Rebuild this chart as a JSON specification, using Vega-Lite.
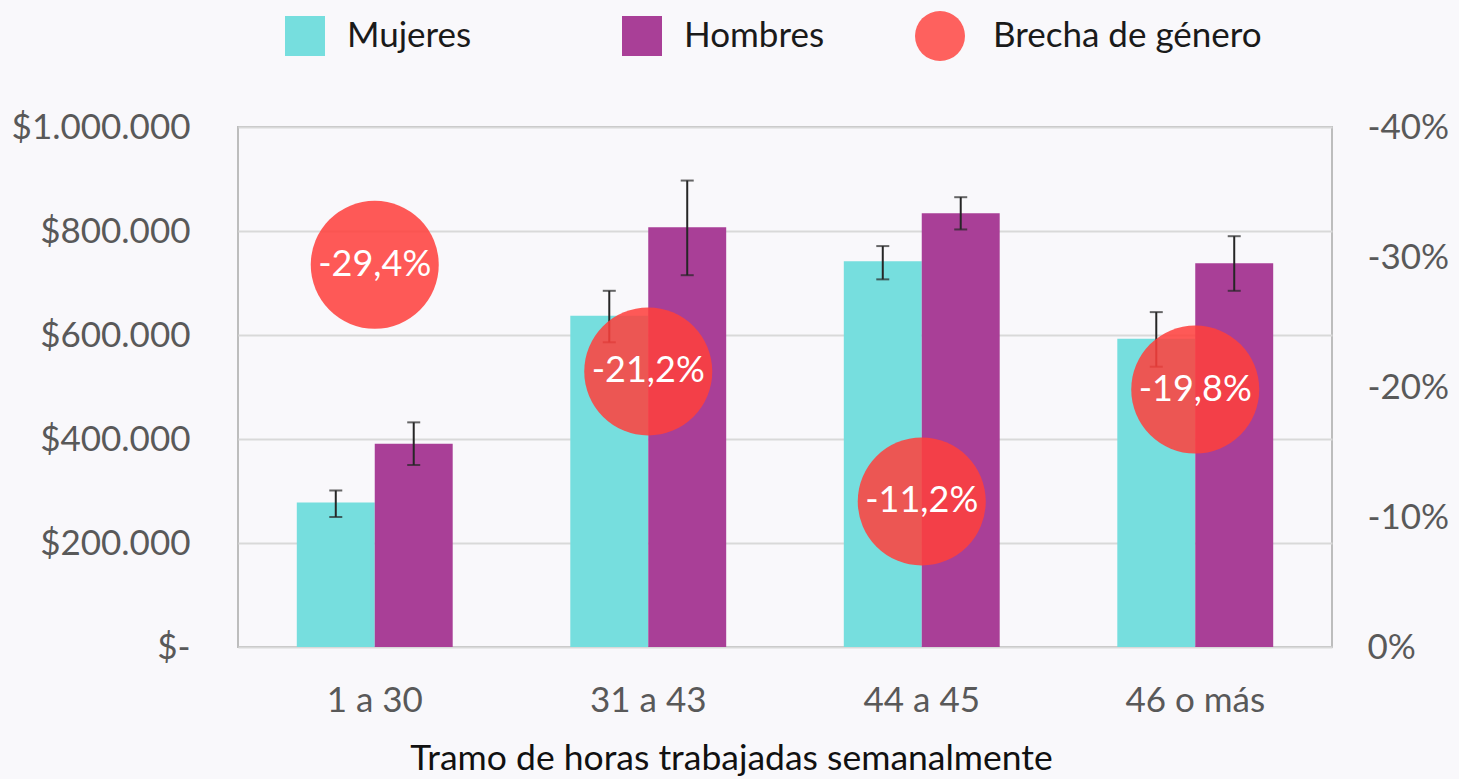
{
  "$schema": "https://vega.github.io/schema/vega-lite/v6.json",
  "width": 1094,
  "height": 520,
  "autosize": {"type": "none"},
  "padding": {"left": 238, "top": 127, "right": 127, "bottom": 132},
  "background": "#F9F8FB",
  "config": {
    "locale": {"number": {"decimal": ",", "thousands": ".", "grouping": [3], "currency": ["$", ""], "minus": "-", "percent": "%"}},
    "view": {"stroke": "#BDBDBD", "strokeWidth": 2},
    "font": "Lato",
    "axis": {"labelFont": "Lato", "titleFont": "Lato"},
    "legend": {"labelFont": "Lato"}
  },
  "datasets": {
    "bars": [
      {"tramo": "1 a 30", "sexo": "Mujeres", "valor": 278000, "lo": 250000, "hi": 301000},
      {"tramo": "1 a 30", "sexo": "Hombres", "valor": 391000, "lo": 350000, "hi": 432000},
      {"tramo": "31 a 43", "sexo": "Mujeres", "valor": 637000, "lo": 586000, "hi": 685000},
      {"tramo": "31 a 43", "sexo": "Hombres", "valor": 807000, "lo": 715000, "hi": 897000},
      {"tramo": "44 a 45", "sexo": "Mujeres", "valor": 742000, "lo": 707000, "hi": 771000},
      {"tramo": "44 a 45", "sexo": "Hombres", "valor": 834000, "lo": 803000, "hi": 865000},
      {"tramo": "46 o más", "sexo": "Mujeres", "valor": 593000, "lo": 539000, "hi": 644000},
      {"tramo": "46 o más", "sexo": "Hombres", "valor": 738000, "lo": 685000, "hi": 790000}
    ],
    "gaps": [
      {"tramo": "1 a 30", "serie": "Brecha de género", "brecha": -0.294},
      {"tramo": "31 a 43", "serie": "Brecha de género", "brecha": -0.212},
      {"tramo": "44 a 45", "serie": "Brecha de género", "brecha": -0.112},
      {"tramo": "46 o más", "serie": "Brecha de género", "brecha": -0.198}
    ]
  },
  "layer": [
    {
      "data": {"name": "bars"},
      "encoding": {
        "x": {
          "field": "tramo", "type": "nominal",
          "sort": ["1 a 30", "31 a 43", "44 a 45", "46 o más"],
          "scale": {"paddingInner": 0.43, "paddingOuter": 0.215},
          "axis": {
            "title": "Tramo de horas trabajadas semanalmente",
            "titleFontSize": 35.5, "titleFontWeight": "normal", "titleColor": "#111111", "titlePadding": 23,
            "titleX": 493,
            "labelFontSize": 35, "labelColor": "#595959", "labelPadding": 36, "labelAngle": 0,
            "domain": false, "ticks": false
          }
        },
        "xOffset": {"field": "sexo", "type": "nominal", "sort": ["Mujeres", "Hombres"], "scale": {"paddingInner": 0, "paddingOuter": 0}}
      },
      "layer": [
        {
          "mark": {"type": "bar", "stroke": null},
          "encoding": {
            "y": {
              "field": "valor", "type": "quantitative", "stack": null,
              "scale": {"domain": [0, 1000000], "nice": false},
              "axis": {
                "title": null, "values": [0, 200000, 400000, 600000, 800000, 1000000],
                "format": "$,.0f", "labelExpr": "datum.value === 0 ? '$-' : datum.label",
                "labelFontSize": 35, "labelColor": "#595959", "labelPadding": 48,
                "domain": false, "ticks": false,
                "grid": true, "gridColor": "#D9D9D9", "gridWidth": 2
              }
            },
            "color": {
              "field": "sexo", "type": "nominal",
              "scale": {"domain": ["Mujeres", "Hombres"], "range": ["#76DEDE", "#A93F97"]},
              "legend": {
                "title": null, "orient": "none", "direction": "horizontal",
                "legendX": 47, "legendY": -111,
                "symbolType": "square", "symbolSize": 1600, "symbolStrokeWidth": 0,
                "labelFontSize": 35, "labelColor": "#1A1A1A", "labelOffset": 22,
                "columnPadding": 150, "labelLimit": 400
              }
            }
          }
        },
        {
          "mark": {"type": "rule", "color": "#262626", "strokeWidth": 2},
          "encoding": {
            "y": {"field": "lo", "type": "quantitative"},
            "y2": {"field": "hi"}
          }
        },
        {
          "mark": {"type": "tick", "color": "#262626", "thickness": 2, "size": 13},
          "encoding": {"y": {"field": "lo", "type": "quantitative"}}
        },
        {
          "mark": {"type": "tick", "color": "#262626", "thickness": 2, "size": 13},
          "encoding": {"y": {"field": "hi", "type": "quantitative"}}
        }
      ]
    },
    {
      "data": {"name": "gaps"},
      "encoding": {
        "x": {"field": "tramo", "type": "nominal", "sort": ["1 a 30", "31 a 43", "44 a 45", "46 o más"]},
        "y": {
          "field": "brecha", "type": "quantitative",
          "scale": {"domain": [0, -0.4], "nice": false, "zero": false},
          "axis": {
            "orient": "right", "title": null, "values": [0, -0.1, -0.2, -0.3, -0.4],
            "format": ".0%", "labelFontSize": 35, "labelColor": "#595959", "labelPadding": 35,
            "domain": false, "ticks": false, "grid": false
          }
        }
      },
      "layer": [
        {
          "mark": {"type": "point", "shape": "circle", "filled": true, "size": 16384, "opacity": 0.86, "strokeWidth": 0},
          "encoding": {
            "color": {
              "field": "serie", "type": "nominal",
              "scale": {"domain": ["Brecha de género"], "range": ["#FF3F3B"]},
              "legend": {
                "title": null, "orient": "none", "direction": "horizontal",
                "legendX": 677, "legendY": -116,
                "symbolType": "circle", "symbolSize": 2500, "symbolOpacity": 0.82, "symbolStrokeWidth": 0,
                "labelFontSize": 35, "labelColor": "#1A1A1A", "labelOffset": 28, "labelLimit": 400
              }
            }
          }
        },
        {
          "mark": {"type": "text", "color": "#FFFFFF", "fontSize": 36, "align": "center", "baseline": "middle"},
          "encoding": {"text": {"field": "brecha", "type": "quantitative", "format": ".1%"}}
        }
      ]
    }
  ],
  "resolve": {"scale": {"y": "independent", "color": "independent"}}
}
